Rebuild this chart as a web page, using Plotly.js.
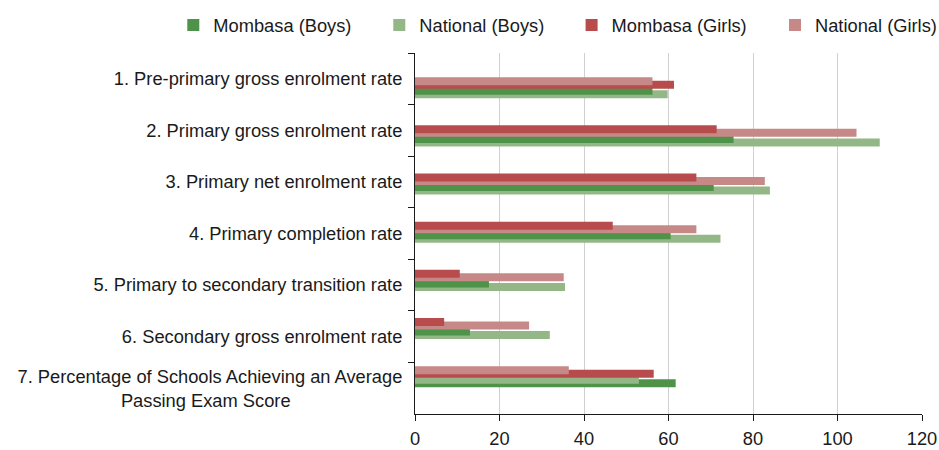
<!DOCTYPE html>
<html>
<head>
<meta charset="utf-8">
<script src="https://cdn.plot.ly/plotly-3.0.1.min.js"></script>
<style>html,body{margin:0;padding:0;background:#fff;}#chart{width:939px;height:450px;}</style>
</head>
<body>
<div id="chart"></div>
<script>
const NB = '\u00a0';
const categories = [
  '1. Pre-primary gross enrolment rate',
  '2. Primary gross enrolment rate',
  '3. Primary net enrolment rate',
  '4. Primary completion rate',
  '5. Primary to secondary transition rate',
  '6. Secondary gross enrolment rate',
  '7. Percentage of Schools Achieving an Average<br>Passing Exam Score' + NB.repeat(22)
];
const mombasaBoys   = [56.2, 75.4, 70.7, 60.5, 17.5, 13.0, 61.7];
const nationalBoys  = [59.8, 110.0, 84.0, 72.3, 35.5, 31.9, 53.0];
const mombasaGirls  = [61.3, 71.4, 66.6, 46.8, 10.6, 6.9, 56.5];
const nationalGirls = [56.2, 104.5, 82.8, 66.6, 35.2, 27.0, 36.4];
const seriesNames = ['Mombasa (Boys)', 'National (Boys)', 'Mombasa (Girls)', 'National (Girls)'];
const xTicks = [0, 20, 40, 60, 80, 100, 120];

const C = {mb: '#4f9249', nb: '#93b786', mg: '#b84c4c', ng: '#c78888'};
const pos = categories.map((_, i) => i);
const W = 0.166;

function pair(a, b, ca, cb, offShort, offLong) {
  const shortV = a.map((v, i) => Math.min(v, b[i]));
  const longV = a.map((v, i) => Math.max(v, b[i]));
  const shortC = a.map((v, i) => v <= b[i] ? ca : cb);
  const longC = a.map((v, i) => v <= b[i] ? cb : ca);
  const base = {type: 'bar', orientation: 'h', y: pos, yaxis: 'y2', width: W,
                showlegend: false, hoverinfo: 'x'};
  return [
    Object.assign({}, base, {x: longV, offset: offLong, marker: {color: longC, line: {width: 0}}}),
    Object.assign({}, base, {x: shortV, offset: offShort, marker: {color: shortC, line: {width: 0}}})
  ];
}

const font = {family: 'Liberation Sans, Arial, sans-serif', size: 18.3, color: '#1a1a1a'};

const legendColors = [C.mb, C.nb, C.mg, C.ng];
const legendIds = ['legend', 'legend2', 'legend3', 'legend4'];
const legendLeft = [173.3, 379.3, 571.6, 775];
const legendTraces = seriesNames.map((n, i) => ({
  type: 'bar', orientation: 'h', x: [null], y: [null], yaxis: 'y2', name: n,
  legend: legendIds[i],
  marker: {color: legendColors[i], line: {width: 0}}, showlegend: true, hoverinfo: 'skip'
}));

const catTrace = {type: 'scatter', mode: 'markers', x: categories.map(() => 0), y: categories,
  marker: {opacity: 0}, showlegend: false, hoverinfo: 'skip'};

const data = [catTrace].concat(legendTraces)
  .concat(pair(mombasaBoys, nationalBoys, C.mb, C.nb, -0.0166, 0.056))
  .concat(pair(mombasaGirls, nationalGirls, C.mg, C.ng, -0.2155, -0.143));

const layout = {
  width: 939, height: 450,
  margin: {l: 415, r: 16.7, t: 52.6, b: 35.7, pad: 0},
  paper_bgcolor: '#fff', plot_bgcolor: '#fff',
  barmode: 'overlay',
  font: font,
  showlegend: true,
  xaxis: {range: [0, 120], tickvals: xTicks, ticktext: xTicks.map(String), showgrid: true,
          gridcolor: '#d0d0d0', gridwidth: 1, zeroline: false, showline: true, linecolor: '#1a1a1a',
          linewidth: 1, ticks: 'outside', ticklen: 6, tickcolor: '#1a1a1a', tickfont: font,
          ticklabelstandoff: 2, fixedrange: true},
  yaxis: {type: 'category', categoryorder: 'array', categoryarray: categories, range: [6.5, -0.5],
          tickson: 'boundaries', ticks: 'outside', ticklen: 6, tickcolor: '#1a1a1a', showline: true,
          linecolor: '#1a1a1a', linewidth: 1, showgrid: false, zeroline: false, tickfont: font,
          ticklabelstandoff: 8, fixedrange: true},
  yaxis2: {overlaying: 'y', range: [6.778, -0.718], visible: false, showgrid: false, zeroline: false,
           fixedrange: true}
};
legendIds.forEach((id, i) => {
  layout[id] = {orientation: 'h', xref: 'container', yref: 'container', x: legendLeft[i] / 939,
    y: 1 - 25 / 450, xanchor: 'left', yanchor: 'middle', font: font,
    bgcolor: 'rgba(0,0,0,0)', borderwidth: 0};
});

Plotly.newPlot('chart', data, layout, {displayModeBar: false, staticPlot: true});
</script>
</body>
</html>
